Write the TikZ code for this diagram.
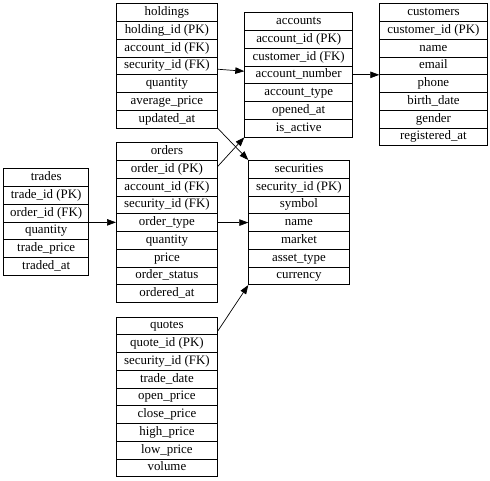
\documentclass[tikz,border=0pt]{standalone}
\usepackage{fontspec}
\setmainfont{Liberation Serif}
\usetikzlibrary{arrows.meta,calc}
\newcommand\ertable[5]{%
  \foreach \fld [count=\i] in {#5} {
    \node[row, minimum width=#4pt] (#1-\i) at (#2, {#3+(\i-1)*17.75}) {\fld};
  }}
\begin{document}
\begin{tikzpicture}[x=1pt,y=-1pt,
  row/.style={draw=black, line width=0.8pt, inner sep=0pt, minimum height=17.75pt,
    text height=9pt, text depth=3pt, font=\fontsize{12.9}{15}\selectfont, anchor=north west},
  fk/.style={-{Triangle[length=9pt,width=6.5pt]}, line width=0.7pt}]
\useasboundingbox (0,0) rectangle (490,480);
\ertable{holdings}{116}{3.3}{101}{{holdings},{holding\_id (PK)},{account\_id (FK)},{security\_id (FK)},{quantity},{average\_price},{updated\_at}}
\ertable{accounts}{244.3}{12.3}{108}{{accounts},{account\_id (PK)},{customer\_id (FK)},{account\_number},{account\_type},{opened\_at},{is\_active}}
\ertable{customers}{379.3}{3.3}{107.5}{{customers},{customer\_id (PK)},{name},{email},{phone},{birth\_date},{gender},{registered\_at}}
\ertable{trades}{3.3}{168.3}{85}{{trades},{trade\_id (PK)},{order\_id (FK)},{quantity},{trade\_price},{traded\_at}}
\ertable{orders}{116}{142.3}{101}{{orders},{order\_id (PK)},{account\_id (FK)},{security\_id (FK)},{order\_type},{quantity},{price},{order\_status},{ordered\_at}}
\ertable{securities}{248.3}{160}{100.5}{{securities},{security\_id (PK)},{symbol},{name},{market},{asset\_type},{currency}}
\ertable{quotes}{116}{316.7}{101}{{quotes},{quote\_id (PK)},{security\_id (FK)},{trade\_date},{open\_price},{close\_price},{high\_price},{low\_price},{volume}}
\draw[fk] ($(holdings-4.east)+(0,3.4)$) -- ($(accounts-4.west)+(0,-3.6)$);
\draw[fk] (accounts-4.east) -- (accounts-4.east -| customers-4.west);
\draw[fk] (holdings-7.south east) -- (securities-1.north west);
\draw[fk] ($(orders-2.east)+(0,-3)$) -- (accounts-7.south west);
\draw[fk] (trades-3.south east) -- (trades-3.south east -| orders-5.west);
\draw[fk] (orders-5.east) -- (orders-5.east -| securities-4.west);
\draw[fk] ($(quotes-1.east)+(0,5)$) -- (securities-7.south west);
\end{tikzpicture}
\end{document}
